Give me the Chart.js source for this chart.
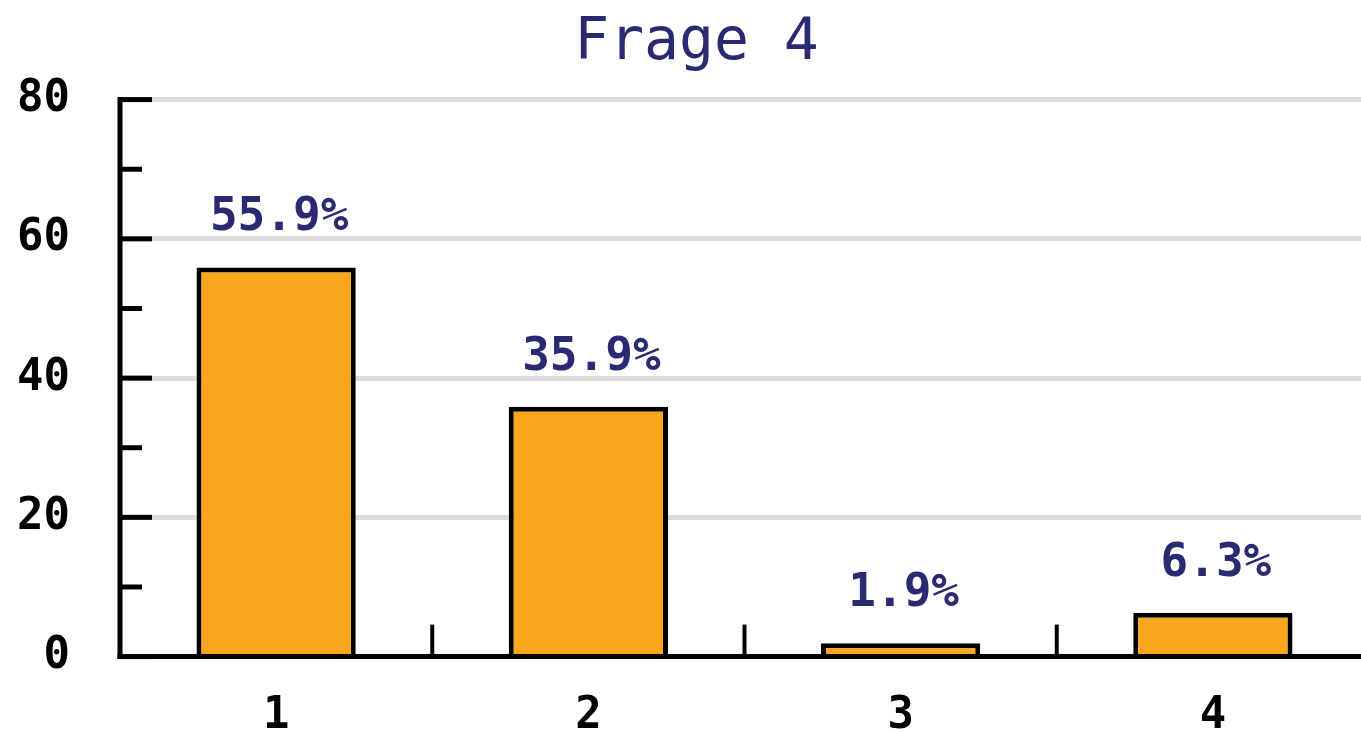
<!DOCTYPE html>
<html>
<head>
<meta charset="utf-8">
<script src="https://cdn.jsdelivr.net/npm/chart.js@4/dist/chart.umd.min.js"></script>
<style>
  html, body { margin: 0; padding: 0; background: #fff; }
  #wrap { width: 1361px; height: 733px; }
</style>
</head>
<body>
<div id="wrap"><canvas id="chart"></canvas></div>
<script>
const categories = ["1", "2", "3", "4"];
const percentValues = [55.9, 35.9, 1.9, 6.3];
const yTicks = [0, 20, 40, 60, 80];

const navy = "#2a2a72";
const monoFont = "'DejaVu Sans Mono', 'Liberation Mono', monospace";

// axis lines, inward tick marks and value labels
const axisPlugin = {
  id: "axisPlugin",
  afterLayout(chart) {
    // the original plot runs a little past the right edge of the picture
    const x = chart.scales.x;
    x.right += 8;
    x.width += 8;
    x.configure();
    if (chart.titleBlock) chart.titleBlock.left += 32;
  },
  afterDatasetsDraw(chart) {
    const ctx = chart.ctx;
    const area = chart.chartArea;
    const x = chart.scales.x;
    const y = chart.scales.y;
    ctx.save();
    ctx.strokeStyle = "#000";
    ctx.lineWidth = 5;
    ctx.lineCap = "butt";

    // y axis line + ticks
    ctx.beginPath();
    ctx.moveTo(area.left, y.getPixelForValue(80) - 2.5);
    ctx.lineTo(area.left, y.getPixelForValue(0) + 2.5);
    ctx.stroke();
    for (let v = 0; v <= 80; v += 10) {
      const py = y.getPixelForValue(v);
      const len = v % 20 === 0 ? 32 : 22;
      ctx.beginPath();
      ctx.moveTo(area.left, py);
      ctx.lineTo(area.left + len, py);
      ctx.stroke();
    }

    // x axis line + category separators
    const base = y.getPixelForValue(0);
    ctx.beginPath();
    ctx.moveTo(area.left - 2.5, base);
    ctx.lineTo(chart.width, base);
    ctx.stroke();
    ctx.lineWidth = 4;
    for (let i = 0; i < categories.length - 1; i++) {
      const px = (x.getPixelForValue(i) + x.getPixelForValue(i + 1)) / 2;
      ctx.beginPath();
      ctx.moveTo(px, base);
      ctx.lineTo(px, base - 32);
      ctx.stroke();
    }

    // value labels
    ctx.fillStyle = navy;
    ctx.font = "bold 46px " + monoFont;
    ctx.textAlign = "center";
    ctx.textBaseline = "bottom";
    chart.getDatasetMeta(0).data.forEach((bar, i) => {
      ctx.fillText(percentValues[i].toFixed(1) + "%", bar.x + 3, bar.y - 26);
    });
    ctx.restore();
  }
};

new Chart(document.getElementById("chart"), {
  type: "bar",
  data: {
    labels: categories,
    datasets: [
      {
        data: percentValues,
        backgroundColor: "#f9a61c",
        borderColor: "#000",
        borderWidth: 5,
        borderSkipped: "bottom",
        categoryPercentage: 1,
        barPercentage: 0.51
      }
    ]
  },
  options: {
    responsive: true,
    maintainAspectRatio: false,
    animation: false,
    plugins: {
      legend: { display: false },
      tooltip: { enabled: false },
      title: {
        display: true,
        text: "Frage 4",
        color: navy,
        font: { family: monoFont, size: 58, weight: "normal" },
        padding: { top: 9, bottom: 21 }
      }
    },
    scales: {
      x: {
        grid: { display: false, drawTicks: false },
        border: { display: false },
        ticks: {
          color: "#000",
          padding: 34,
          font: { family: monoFont, size: 44, weight: "bold" }
        },
        afterFit(scale) { scale.height = 74; }
      },
      y: {
        min: 0,
        max: 80,
        afterBuildTicks(scale) { scale.ticks = yTicks.map(v => ({ value: v })); },
        grid: { color: "#dcdcdc", lineWidth: 5, drawTicks: false },
        border: { display: false },
        ticks: {
          color: "#000",
          padding: 50,
          font: { family: monoFont, size: 44, weight: "bold" }
        },
        afterFit(scale) { scale.width = 120; }
      }
    }
  },
  plugins: [axisPlugin]
});
</script>
</body>
</html>
